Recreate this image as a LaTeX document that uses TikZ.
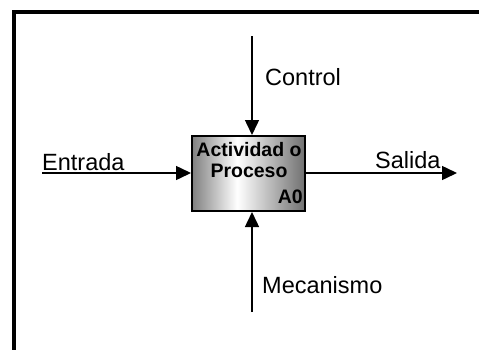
\documentclass[tikz,border=0pt]{standalone}
\usepackage{fontspec}
\setmainfont{Liberation Sans}
\usetikzlibrary{arrows.meta}
% horizontal grey-white-grey fill of the activity box
\pgfdeclarehorizontalshading{actshade}{100bp}{%
  color(0bp)=(black!50); color(25bp)=(black!50);
  color(45bp)=(white);
  color(75bp)=(black!56); color(100bp)=(black!56)}
\tikzset{
  flow/.style={line width=1.5pt,-{Triangle[length=15pt,width=14pt]}},
  lbl/.style={inner sep=0pt,font=\fontsize{23.5}{26}\selectfont},
  boxtxt/.style={inner sep=0pt,font=\fontsize{19.5}{22}\selectfont\bfseries},
  procbox/.style={draw,line width=2pt,shading=actshade,
    minimum width=113pt,minimum height=75pt,inner sep=0pt}
}
\begin{document}
\begin{tikzpicture}[x=1pt,y=-1pt]
  \useasboundingbox (0,0) rectangle (479,349);
  % outer frame, only the top and left edges
  \draw[line width=4pt] (14,352) -- (14,12) -- (482,12);
  % activity box
  \node[procbox] (box) at (248.5,173.5) {};
  \node[boxtxt,anchor=base] (t1) at (249,156) {Actividad o};
  \node[boxtxt,anchor=base] (t2) at (249,177) {Proceso};
  \node[boxtxt,anchor=base east] (code) at (303,203) {A0};
  % free ends of the connectors
  \coordinate (ctl) at (252,36);
  \coordinate (mec) at (252,312);
  \coordinate (inp) at (42,173);
  \coordinate (outp) at (457,173);
  % connectors
  \draw[flow] (ctl) -- (ctl |- box.north);
  \draw[flow] (mec) -- (mec |- box.south);
  \draw[flow] (inp) -- (inp -| box.west);
  \draw[flow] (box.east |- outp) -- (outp);
  % labels
  \node[lbl,anchor=base west] (lctl) at (265,85) {Control};
  \node[lbl,anchor=base west] (linp) at (42,170) {Entrada};
  \node[lbl,anchor=base west] (lout) at (375,168) {Salida};
  \node[lbl,anchor=base west] (lmec) at (262,293) {Mecanismo};
\end{tikzpicture}
\end{document}
